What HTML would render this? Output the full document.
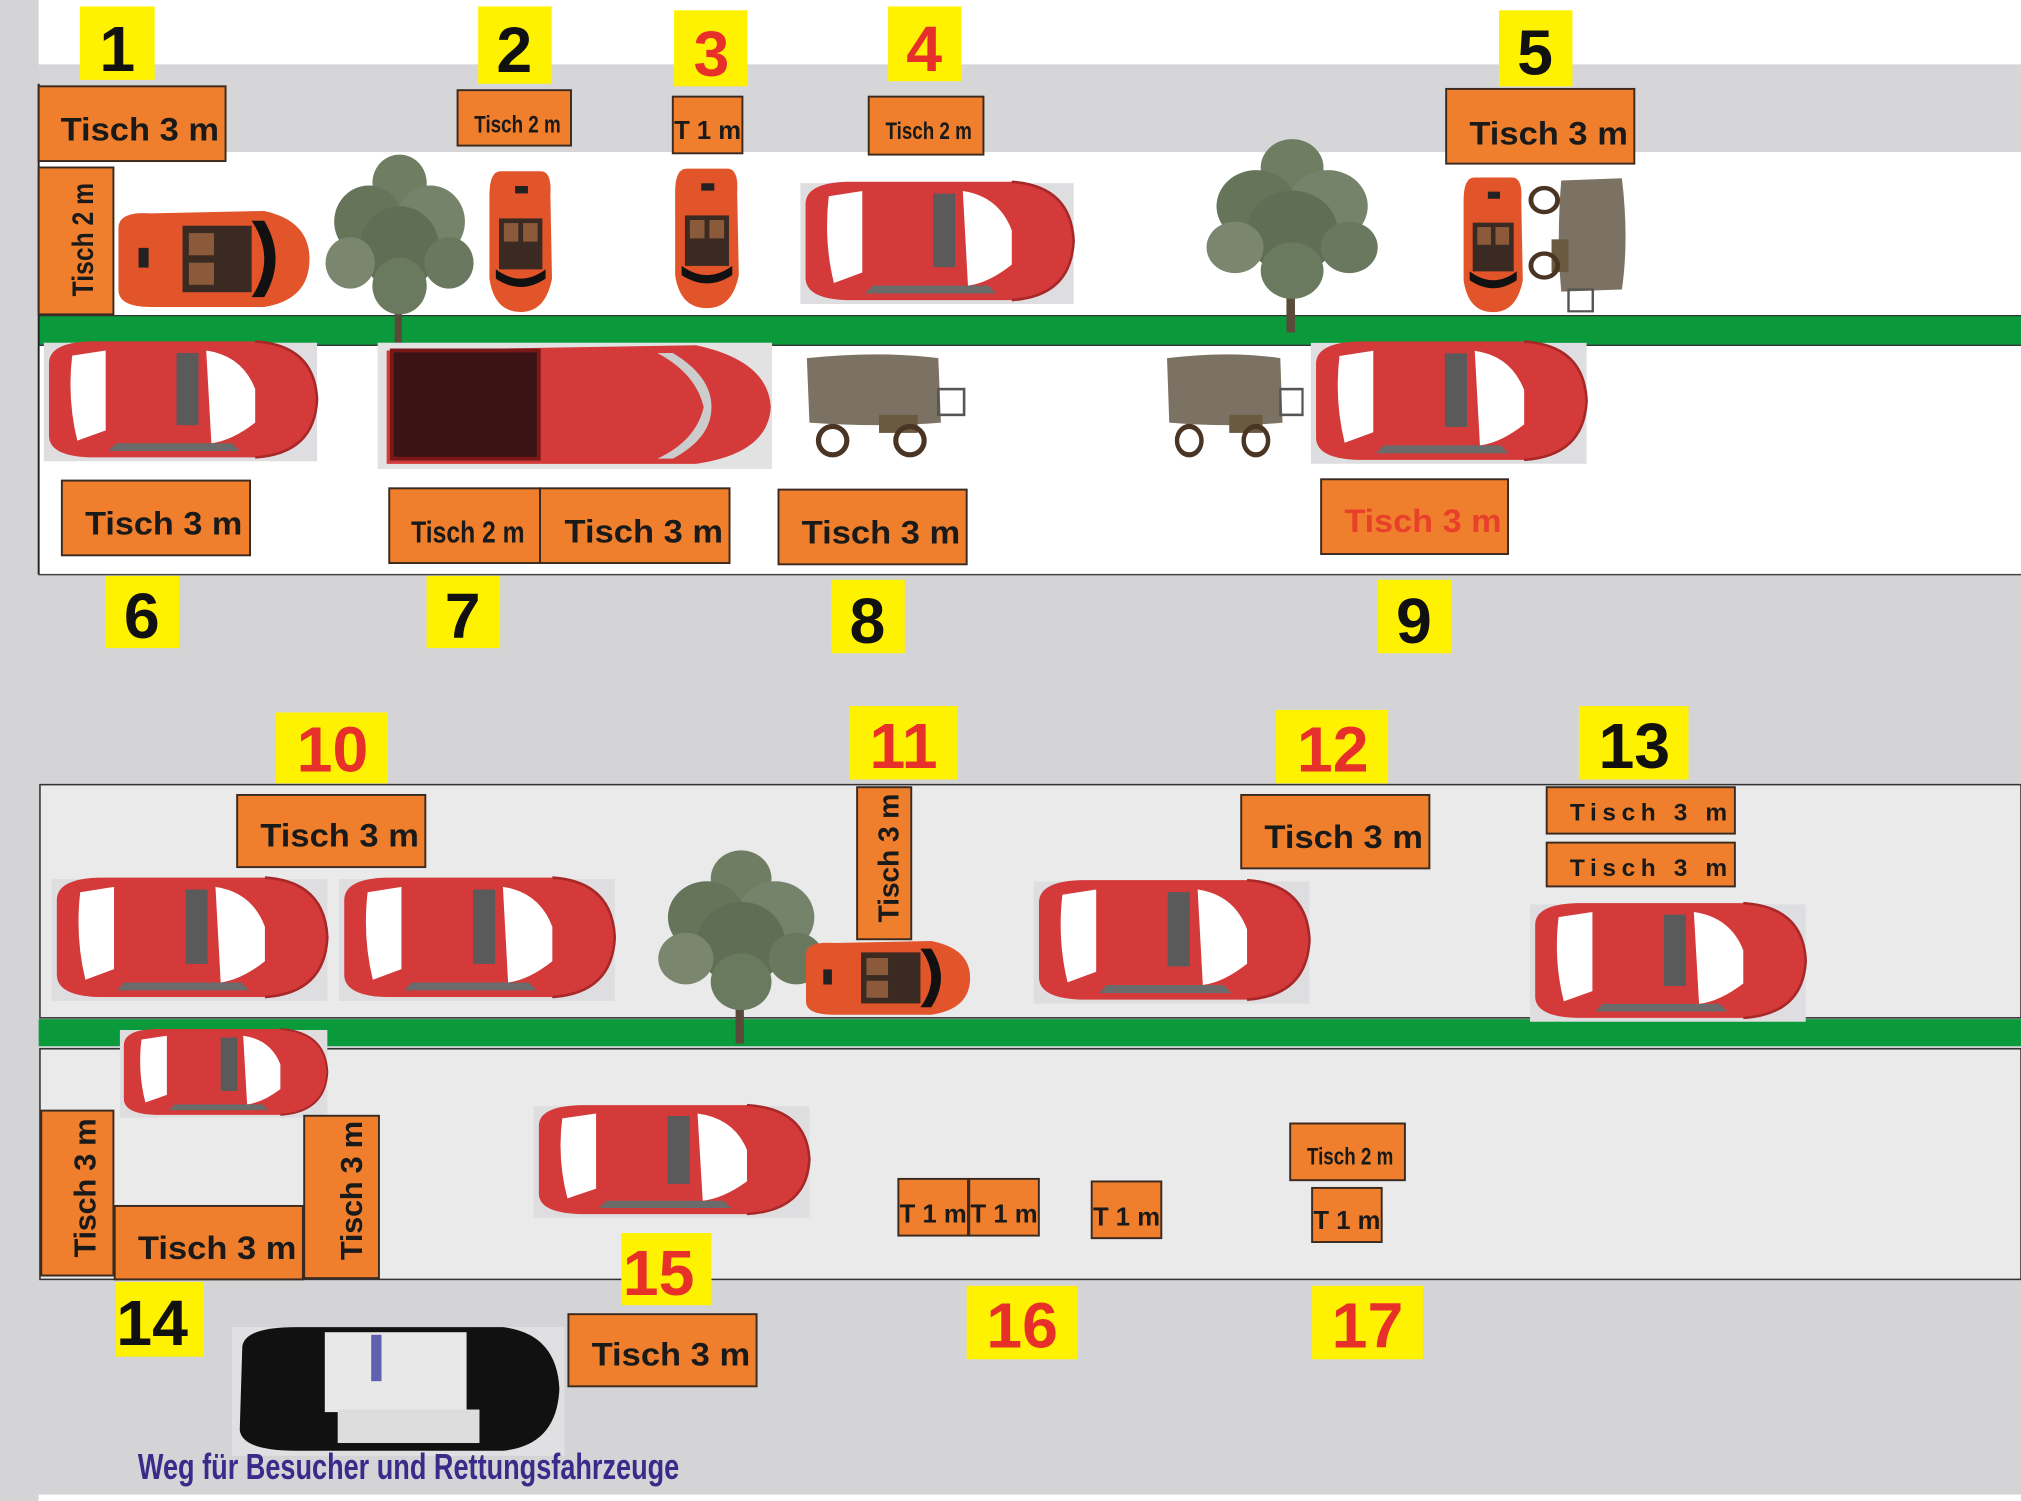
<!DOCTYPE html>
<html><head><meta charset="utf-8"><style>
html,body{margin:0;padding:0;background:#fff;}
svg{display:block;}
text{font-family:"Liberation Sans",sans-serif;font-weight:bold;}
</style></head><body>
<svg width="2021" height="1501" viewBox="0 0 1568 1165" preserveAspectRatio="none" xmlns="http://www.w3.org/2000/svg">
<defs>
<symbol id="sedan" viewBox="0 0 220 100" preserveAspectRatio="none">
<rect x="4" y="6" width="212" height="92" fill="#dedee0"/>
<path d="M8,22 Q8,6 40,5 L168,5 Q214,8 216,50 Q214,92 168,95 L40,95 Q8,94 8,78Z" fill="#d43a3a"/>
<path d="M26,16 L52,12 L52,74 L30,82 Q22,50 26,16Z" fill="#fff"/>
<rect x="107" y="14" width="17" height="56" fill="#5a5a5a"/>
<path d="M130,12 Q158,16 168,42 L168,68 Q150,82 134,84 Z" fill="#fff"/>
<path d="M60,84 L150,84 L156,90 L54,90Z" fill="#6b6b6b"/>
<path d="M168,5 Q214,8 216,50 Q214,92 168,95" fill="none" stroke="#a82828" stroke-width="2"/>
</symbol>
<symbol id="sport" viewBox="0 0 160 90" preserveAspectRatio="none">
<path d="M4,20 Q4,6 30,8 L120,6 Q156,14 156,45 Q156,78 120,84 L30,84 Q4,84 4,70Z" fill="#e2542a"/>
<rect x="55" y="18" width="55" height="54" fill="#3a2a22"/>
<rect x="60" y="24" width="20" height="18" fill="#8a5a3a"/><rect x="60" y="48" width="20" height="18" fill="#8a5a3a"/>
<path d="M110,14 Q130,45 110,76 L120,76 Q138,45 120,14Z" fill="#111"/>
<rect x="20" y="36" width="8" height="16" fill="#222"/>
</symbol>
<symbol id="tree" viewBox="0 0 140 160" preserveAspectRatio="none">
<rect x="66" y="90" width="6" height="68" fill="#5a4a3a"/>
<circle cx="70" cy="30" r="22" fill="#6f7d63"/><circle cx="45" cy="60" r="28" fill="#66745a"/>
<circle cx="95" cy="60" r="28" fill="#75836a"/><circle cx="70" cy="80" r="32" fill="#5f6e54"/>
<circle cx="30" cy="92" r="20" fill="#7a876e"/><circle cx="110" cy="92" r="20" fill="#6a7860"/>
<circle cx="70" cy="110" r="22" fill="#6a7a5e"/>
</symbol>
<symbol id="wagon" viewBox="0 0 130 85" preserveAspectRatio="none">
<path d="M4,6 Q60,0 106,6 L108,56 Q60,60 6,56Z" fill="#7b7263"/>
<rect x="106" y="30" width="20" height="20" fill="none" stroke="#555" stroke-width="2"/>
<rect x="60" y="50" width="30" height="14" fill="#6a5a40"/>
<circle cx="24" cy="70" r="11" fill="none" stroke="#4a3525" stroke-width="4"/>
<circle cx="84" cy="70" r="11" fill="none" stroke="#4a3525" stroke-width="4"/>
</symbol>
</defs>

<!-- backgrounds -->
<rect x="0" y="0" width="1568" height="1165" fill="#d4d4d6"/>
<rect x="30" y="0" width="1538" height="50" fill="#fff"/>
<rect x="30" y="50" width="1538" height="68" fill="#d6d6d8"/>
<rect x="30" y="118" width="1538" height="127" fill="#fff"/>
<rect x="30" y="268" width="1538" height="178" fill="#fff"/>
<rect x="30" y="245" width="1538" height="23" fill="#0a9a3c"/>
<line x1="30" y1="245" x2="1568" y2="245" stroke="#333" stroke-width="1"/>
<line x1="30" y1="268" x2="1568" y2="268" stroke="#333" stroke-width="1"/>
<line x1="30" y1="446" x2="1568" y2="446" stroke="#444" stroke-width="1.2"/>
<line x1="30" y1="65" x2="30" y2="446" stroke="#222" stroke-width="1.5"/>

<rect x="31" y="609" width="1537" height="181" fill="#ebeaea" stroke="#333" stroke-width="1.2"/>
<rect x="30" y="791" width="1538" height="21" fill="#0a9a3c"/>
<rect x="31" y="814" width="1537" height="179" fill="#ebeaea" stroke="#333" stroke-width="1.2"/>
<rect x="30" y="1160" width="1538" height="5" fill="#fff"/>

<!-- trees -->
<use href="#tree" x="243" y="112" width="134" height="160"/>
<use href="#tree" x="925" y="100" width="155" height="160"/>
<use href="#tree" x="500" y="652" width="150" height="160"/>

<!-- vehicles top -->
<use href="#sport" x="88" y="158" width="156" height="86"/>
<g transform="translate(432,130) rotate(90)"><use href="#sport" x="0" y="0" width="115" height="56"/></g>
<g transform="translate(577,128) rotate(90)"><use href="#sport" x="0" y="0" width="114" height="57"/></g>
<g transform="translate(1185,135) rotate(90)"><use href="#sport" x="0" y="0" width="110" height="53"/></g>
<g transform="translate(1264,135) rotate(90)"><use href="#wagon" x="0" y="0" width="110" height="80"/></g>
<use href="#sedan" x="617" y="136" width="220" height="102"/>
<use href="#sedan" x="30" y="260" width="220" height="100"/>
<!-- pickup -->
<rect x="293" y="266" width="306" height="98" fill="#e2e2e2"/>
<path d="M300,272 L540,268 Q596,280 598,316 Q596,352 540,360 L300,360Z" fill="#d43a3a"/>
<rect x="304" y="272" width="114" height="84" fill="#3a1414" stroke="#7a1818" stroke-width="3"/>
<path d="M510,274 Q540,290 546,316 Q540,342 510,356 L522,356 Q552,340 552,316 Q552,292 522,274Z" fill="#ccc"/>
<use href="#wagon" x="622" y="272" width="130" height="85"/>
<use href="#wagon" x="902" y="272" width="112" height="85"/>
<use href="#sedan" x="1013" y="260" width="222" height="102"/>

<!-- vehicles bottom -->
<use href="#sedan" x="36" y="676" width="222" height="103"/>
<use href="#sedan" x="259" y="676" width="222" height="103"/>
<use href="#sport" x="622" y="726" width="134" height="66"/>
<use href="#sedan" x="798" y="678" width="222" height="103"/>
<use href="#sedan" x="1183" y="696" width="222" height="99"/>
<use href="#sedan" x="90" y="795" width="167" height="74"/>
<use href="#sedan" x="410" y="853" width="222" height="94"/>
<!-- police -->
<rect x="180" y="1030" width="258" height="100" fill="#e0e0e2"/>
<path d="M188,1045 Q190,1030 230,1030 L390,1030 Q432,1035 434,1078 Q432,1122 390,1126 L230,1126 Q188,1126 186,1110Z" fill="#111"/>
<rect x="252" y="1034" width="110" height="62" fill="#e8e8e8"/>
<rect x="262" y="1094" width="110" height="26" fill="#ddd"/>
<rect x="288" y="1036" width="8" height="36" fill="#6060b0"/>
<text x="107" y="1148" font-size="28" fill="#3a2a8a" textLength="420" lengthAdjust="spacingAndGlyphs">Weg für Besucher und Rettungsfahrzeuge</text>

<!-- tables -->
<g fill="#ef7f2c" stroke="#3a2a20" stroke-width="1.5">
<rect x="30" y="67" width="145" height="58"/>
<rect x="30" y="130" width="58" height="114"/>
<rect x="355" y="70" width="88" height="43"/>
<rect x="522" y="75" width="54" height="44"/>
<rect x="674" y="75" width="89" height="45"/>
<rect x="1122" y="69" width="146" height="58"/>
<rect x="48" y="373" width="146" height="58"/>
<rect x="302" y="379" width="117" height="58"/>
<rect x="419" y="379" width="147" height="58"/>
<rect x="604" y="380" width="146" height="58"/>
<rect x="1025" y="372" width="145" height="58"/>
<rect x="184" y="617" width="146" height="56"/>
<rect x="665" y="611" width="42" height="118"/>
<rect x="963" y="617" width="146" height="57"/>
<rect x="1200" y="611" width="146" height="36"/>
<rect x="1200" y="654" width="146" height="34"/>
<rect x="32" y="862" width="56" height="128"/>
<rect x="89" y="936" width="146" height="57"/>
<rect x="236" y="866" width="58" height="126"/>
<rect x="441" y="1020" width="146" height="56"/>
<rect x="697" y="915" width="54" height="44"/>
<rect x="752" y="915" width="54" height="44"/>
<rect x="847" y="917" width="54" height="44"/>
<rect x="1001" y="872" width="89" height="44"/>
<rect x="1018" y="922" width="54" height="42"/>
</g>
<g font-size="25" fill="#1a1a1a">
<text x="47" y="109" textLength="123" lengthAdjust="spacingAndGlyphs">Tisch 3 m</text>
<text x="368" y="103" font-size="19" textLength="67" lengthAdjust="spacingAndGlyphs">Tisch 2 m</text>
<text x="523" y="108" font-size="20" textLength="52" lengthAdjust="spacingAndGlyphs">T 1 m</text>
<text x="687" y="108" font-size="19" textLength="67" lengthAdjust="spacingAndGlyphs">Tisch 2 m</text>
<text x="1140" y="112" textLength="123" lengthAdjust="spacingAndGlyphs">Tisch 3 m</text>
<text x="66" y="415" textLength="122" lengthAdjust="spacingAndGlyphs">Tisch 3 m</text>
<text x="319" y="421" font-size="24" textLength="88" lengthAdjust="spacingAndGlyphs">Tisch 2 m</text>
<text x="438" y="421" textLength="123" lengthAdjust="spacingAndGlyphs">Tisch 3 m</text>
<text x="622" y="422" textLength="123" lengthAdjust="spacingAndGlyphs">Tisch 3 m</text>
<text x="1043" y="413" fill="#e8402a" textLength="122" lengthAdjust="spacingAndGlyphs">Tisch 3 m</text>
<text x="202" y="657" textLength="123" lengthAdjust="spacingAndGlyphs">Tisch 3 m</text>
<text x="981" y="658" textLength="123" lengthAdjust="spacingAndGlyphs">Tisch 3 m</text>
<text x="1218" y="637" font-size="19" textLength="122" lengthAdjust="spacing">Tisch 3 m</text>
<text x="1218" y="680" font-size="19" textLength="122" lengthAdjust="spacing">Tisch 3 m</text>
<text x="107" y="977" textLength="123" lengthAdjust="spacingAndGlyphs">Tisch 3 m</text>
<text x="459" y="1060" textLength="123" lengthAdjust="spacingAndGlyphs">Tisch 3 m</text>
<text x="698" y="949" font-size="20" textLength="52" lengthAdjust="spacingAndGlyphs">T 1 m</text>
<text x="753" y="949" font-size="20" textLength="52" lengthAdjust="spacingAndGlyphs">T 1 m</text>
<text x="848" y="951" font-size="20" textLength="52" lengthAdjust="spacingAndGlyphs">T 1 m</text>
<text x="1014" y="904" font-size="19" textLength="67" lengthAdjust="spacingAndGlyphs">Tisch 2 m</text>
<text x="1019" y="954" font-size="20" textLength="52" lengthAdjust="spacingAndGlyphs">T 1 m</text>
<text transform="translate(72,230) rotate(-90)" font-size="23" textLength="88" lengthAdjust="spacingAndGlyphs">Tisch 2 m</text>
<text transform="translate(697,716) rotate(-90)" font-size="22" textLength="100" lengthAdjust="spacing">Tisch 3 m</text>
<text transform="translate(74,976) rotate(-90)" font-size="24" textLength="108" lengthAdjust="spacing">Tisch 3 m</text>
<text transform="translate(281,978) rotate(-90)" font-size="24" textLength="108" lengthAdjust="spacing">Tisch 3 m</text>
</g>

<!-- number labels -->
<g fill="#fff200">
<rect x="62" y="5" width="58" height="57"/>
<rect x="371" y="5" width="57" height="60"/>
<rect x="523" y="8" width="57" height="59"/>
<rect x="689" y="5" width="57" height="58"/>
<rect x="1163" y="8" width="57" height="59"/>
<rect x="82" y="447" width="57" height="56"/>
<rect x="331" y="447" width="57" height="56"/>
<rect x="645" y="450" width="57" height="57"/>
<rect x="1069" y="450" width="57" height="57"/>
<rect x="214" y="553" width="87" height="55"/>
<rect x="659" y="548" width="84" height="57"/>
<rect x="990" y="551" width="87" height="57"/>
<rect x="1225" y="548" width="85" height="57"/>
<rect x="90" y="995" width="68" height="58"/>
<rect x="482" y="957" width="70" height="56"/>
<rect x="750" y="998" width="86" height="57"/>
<rect x="1018" y="998" width="86" height="57"/>
</g>
<g font-size="50" text-anchor="middle" fill="#111">
<text x="91" y="55">1</text>
<text x="399" y="56">2</text>
<text x="552" y="59" fill="#e8302a">3</text>
<text x="717" y="55" fill="#e8302a">4</text>
<text x="1191" y="58">5</text>
<text x="110" y="495">6</text>
<text x="359" y="495">7</text>
<text x="673" y="499">8</text>
<text x="1097" y="499">9</text>
<text x="258" y="599" fill="#e8302a">10</text>
<text x="701" y="596" fill="#e8302a">11</text>
<text x="1034" y="599" fill="#e8302a">12</text>
<text x="1268" y="596">13</text>
<text x="118" y="1044">14</text>
<text x="511" y="1005" fill="#e8302a">15</text>
<text x="793" y="1046" fill="#e8302a">16</text>
<text x="1061" y="1046" fill="#e8302a">17</text>
</g>
</svg>
</body></html>
